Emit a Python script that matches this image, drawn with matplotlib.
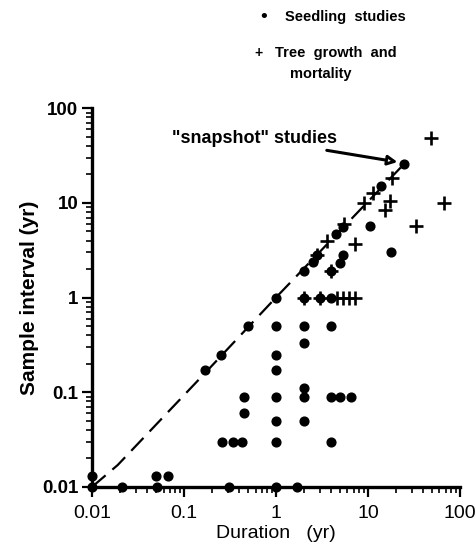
import numpy as np
import matplotlib
matplotlib.use('Agg')
import matplotlib.pyplot as plt
from matplotlib.ticker import LogLocator, NullFormatter, FixedLocator

# seedling studies (dots): duration (yr), sample interval (yr)
seed_dur = [0.01, 0.021, 0.051, 0.31, 1.0, 1.7,
            0.01, 0.05, 0.067,
            0.26, 0.34, 0.43, 1.0, 4.0,
            1.0, 2.0, 0.45,
            0.45, 1.0, 2.0, 4.0, 5.0, 6.5,
            2.0, 1.0, 1.0, 2.0,
            0.17, 0.25, 0.5, 1.0, 2.0, 4.0,
            1.0, 2.0, 3.0, 4.0,
            2.0, 4.0, 2.5, 5.0, 2.8, 5.4,
            4.5, 5.4, 10.5, 14.0, 18.0, 25.0]
seed_int = [0.01, 0.01, 0.01, 0.01, 0.01, 0.01,
            0.013, 0.013, 0.013,
            0.03, 0.03, 0.03, 0.03, 0.03,
            0.05, 0.05, 0.06,
            0.09, 0.09, 0.09, 0.09, 0.09, 0.09,
            0.11, 0.17, 0.25, 0.33,
            0.17, 0.25, 0.5, 0.5, 0.5, 0.5,
            1.0, 1.0, 1.0, 1.0,
            1.9, 1.9, 2.4, 2.3, 2.8, 2.8,
            4.7, 5.6, 5.7, 15.0, 3.0, 26.0]

# tree growth and mortality (+)
tree_dur = [2.0, 3.0, 4.6, 5.4, 6.2, 7.3,
            4.0, 2.8, 3.6, 5.5, 7.3, 9.0, 11.4,
            15.5, 17.5, 18.5, 33.0, 48.0, 67.0]
tree_int = [1.0, 1.0, 1.0, 1.0, 1.0, 1.0,
            1.9, 2.8, 4.0, 6.0, 3.7, 10.0, 12.7,
            8.5, 10.5, 18.5, 5.7, 48.0, 10.0]

# dashed 1:1 line
line_dur = [0.01, 0.019, 0.17, 1.0, 25.0]
line_int = [0.01, 0.017, 0.16, 1.0, 26.0]

xticks = [0.01, 0.1, 1, 10, 100]
xlabels = ['0.01', '0.1', '1', '10', '100']
yticks = [0.01, 0.1, 1, 10, 100]
ylabels = ['0.01', '0.1', '1', '10', '100']

narrow = ['Liberation Sans Narrow', 'Liberation Sans', 'DejaVu Sans']
bold = ['Liberation Sans', 'DejaVu Sans']

fig = plt.figure(figsize=(4.77, 5.52), dpi=100)
ax = fig.add_axes([0.193, 0.118, 0.771, 0.686])

ax.plot(line_dur, line_int, color='black', lw=1.6, dashes=(8, 4), zorder=2)
ax.plot(seed_dur, seed_int, 'o', color='black', ms=6.3, zorder=3, clip_on=False)
ax.plot(tree_dur, tree_int, '+', color='black', ms=10, mew=1.9, zorder=3, clip_on=False)

ax.set_xscale('log')
ax.set_yscale('log')
ax.set_xlim(0.01, 100)
ax.set_ylim(0.01, 100)

for s in ['top', 'right']:
    ax.spines[s].set_visible(False)
for s in ['left', 'bottom']:
    ax.spines[s].set_linewidth(2.4)

ax.xaxis.set_major_locator(FixedLocator(xticks))
ax.yaxis.set_major_locator(FixedLocator(yticks))
ax.set_xticklabels(xlabels, family=narrow, fontsize=14)
ax.set_yticklabels(ylabels, family=bold, fontsize=13.5, fontweight='bold')
ax.xaxis.set_minor_locator(LogLocator(base=10, subs=np.arange(2, 10), numticks=20))
ax.yaxis.set_minor_locator(LogLocator(base=10, subs=np.arange(2, 10), numticks=20))
ax.xaxis.set_minor_formatter(NullFormatter())
ax.yaxis.set_minor_formatter(NullFormatter())
ax.tick_params(which='major', length=7, width=1.6, direction='out', pad=3)
ax.tick_params(which='minor', length=4, width=1.2, direction='out')
ax.tick_params(axis='x', which='major', pad=6)

ax.set_xlabel('Duration   (yr)', family=narrow, fontsize=14, labelpad=2)
ax.set_ylabel('Sample interval (yr)', family=bold, fontsize=15, fontweight='bold', labelpad=2)

ax.annotate('"snapshot" studies', xy=(21, 27), xytext=(0.074, 48),
            fontsize=13, fontweight='bold', family=bold, va='center',
            arrowprops=dict(arrowstyle='-|>', color='black', lw=2.2,
                            mutation_scale=14, fc='white', shrinkA=3, shrinkB=0))

# legend text
fig.text(0.552, 0.969, '\u2022', fontsize=13, ha='center', va='center', family=['DejaVu Sans'])
fig.text(0.597, 0.969, 'Seedling  studies', fontsize=10.5, fontweight='bold', family=bold, va='center')
fig.text(0.542, 0.904, '+', fontsize=10, fontweight='bold', ha='center', va='center', family=bold)
fig.text(0.576, 0.904, 'Tree  growth  and', fontsize=10.5, fontweight='bold', family=bold, va='center')
fig.text(0.607, 0.866, 'mortality', fontsize=10.5, fontweight='bold', family=bold, va='center')

fig.savefig('out.png', dpi=100)
